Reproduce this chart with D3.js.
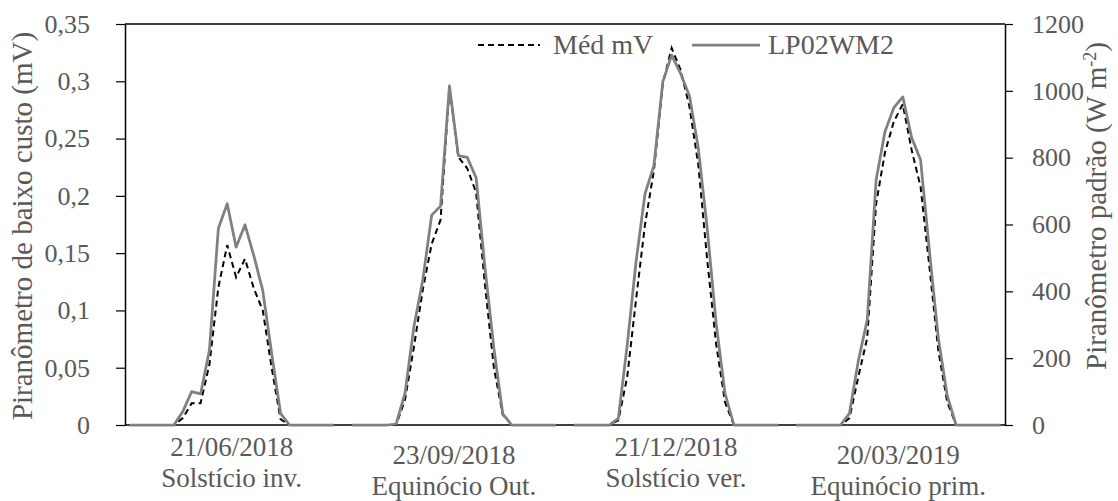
<!DOCTYPE html>
<html>
<head>
<meta charset="utf-8">
<script src="https://cdn.jsdelivr.net/npm/d3@7"></script>
<style>
    body { margin: 0; background: #fff; }
    svg text { font-family: "Liberation Serif", "Times New Roman", Times, Tinos, "Noto Serif", "DejaVu Serif", FreeSerif, serif; fill: #595959; }
</style>
</head>
<body>
<svg id="chart" width="1118" height="501"></svg>
<script>
// Dias medidos (uma curva de 24 horas por dia)
const dayDates = ["21/06/2018", "23/09/2018", "21/12/2018", "20/03/2019"];
const dayNames = ["Solstício inv.", "Equinócio Out.", "Solstício ver.", "Equinócio prim."];
const hours = [0, 1, 2, 3, 4, 5, 6, 7, 8, 9, 10, 11, 12, 13, 14, 15, 16, 17, 18, 19, 20, 21, 22, 23];

// Piranômetro de baixo custo (mV)
const mvDay1 = [0, 0, 0, 0, 0, 0, 0.006, 0.019, 0.019, 0.053, 0.12, 0.157, 0.129, 0.145, 0.119, 0.1, 0.05, 0.005, 0, 0, 0, 0, 0, 0];
const mvDay2 = [0, 0, 0, 0, 0, 0, 0.022, 0.068, 0.118, 0.158, 0.179, 0.295, 0.234, 0.224, 0.203, 0.122, 0.05, 0.009, 0, 0, 0, 0, 0, 0];
const mvDay3 = [0, 0, 0, 0, 0, 0.004, 0.042, 0.11, 0.175, 0.222, 0.298, 0.329, 0.31, 0.278, 0.227, 0.144, 0.071, 0.02, 0, 0, 0, 0, 0, 0];
const mvDay4 = [0, 0, 0, 0, 0, 0, 0.006, 0.042, 0.076, 0.193, 0.238, 0.265, 0.28, 0.24, 0.208, 0.138, 0.065, 0.02, 0, 0, 0, 0, 0, 0];

// Piranômetro padrão LP02 (W m-2)
const wDay1 = [0, 0, 0, 0, 0, 0, 40, 100, 93, 224, 588, 662, 532, 599, 506, 402, 214, 35, 0, 0, 0, 0, 0, 0];
const wDay2 = [0, 0, 0, 0, 0, 3, 95, 294, 434, 628, 655, 1015, 806, 801, 740, 470, 230, 33, 0, 0, 0, 0, 0, 0];
const wDay3 = [0, 0, 0, 0, 0, 20, 240, 490, 692, 776, 1027, 1107, 1052, 985, 828, 588, 305, 95, 0, 0, 0, 0, 0, 0];
const wDay4 = [0, 0, 0, 0, 0, 0, 35, 192, 314, 733, 878, 950, 982, 860, 794, 520, 260, 88, 0, 0, 0, 0, 0, 0];

const mvTicks = [0, 0.05, 0.1, 0.15, 0.2, 0.25, 0.3, 0.35];
const wTicks = [0, 200, 400, 600, 800, 1000, 1200];
const seriesNames = ["Méd mV", "LP02WM2"];

const mvDays = [mvDay1, mvDay2, mvDay3, mvDay4];
const wDays = [wDay1, wDay2, wDay3, wDay4];

// categorias: 24 horas por dia, com uma célula vazia entre os dias
let cats = [];
dayDates.forEach((d, di) => {
    hours.forEach((h, hi) => cats.push({ day: di, hour: hi, mv: mvDays[di][hi], w: wDays[di][hi] }));
    if (di < dayDates.length - 1) cats.push(null);
});

const margin = { left: 125, right: 1005, top: 24, bottom: 425 };
const svg = d3.select("#chart");
const serif = '"Liberation Serif", "Times New Roman", Times, Tinos, "Noto Serif", "DejaVu Serif", FreeSerif, serif';

const x = d3.scaleBand().domain(d3.range(cats.length)).range([margin.left, margin.right]);
const cx = i => x(i) + x.bandwidth() / 2;
const yL = d3.scaleLinear().domain([0, 0.35]).range([margin.bottom, margin.top]);
const yR = d3.scaleLinear().domain([0, 1200]).range([margin.bottom, margin.top]);

// eixos
const fmt = d => d3.format(".2~f")(d).replace(".", ",");
const axL = svg.append("g")
    .attr("transform", `translate(${margin.left},0)`)
    .call(d3.axisLeft(yL).tickValues(mvTicks).tickFormat(fmt).tickSize(9).tickSizeOuter(0).tickPadding(26));
const axR = svg.append("g")
    .attr("transform", `translate(${margin.right},0)`)
    .call(d3.axisRight(yR).tickValues(wTicks).tickFormat(d3.format("d")).tickSize(8).tickSizeOuter(0).tickPadding(19));

[axL, axR].forEach(a => {
    a.attr("font-family", serif);
    a.select(".domain").attr("stroke", "#000").attr("stroke-width", 1.5);
    a.selectAll(".tick line").attr("stroke", "#000").attr("stroke-width", 1.2);
    a.selectAll(".tick text").style("font-size", "26px").attr("fill", "#595959")
        .style("font-family", serif);
});

svg.append("line")
    .attr("x1", margin.left).attr("x2", margin.right)
    .attr("y1", margin.top).attr("y2", margin.top)
    .attr("stroke", "#000").attr("stroke-width", 1.5);
svg.append("line")
    .attr("x1", margin.left).attr("x2", margin.right)
    .attr("y1", margin.bottom).attr("y2", margin.bottom)
    .attr("stroke", "#000").attr("stroke-width", 1.5);

// séries, um trecho por dia
const idx = cats.map((c, i) => c ? i : null);
dayDates.forEach((d, di) => {
    const pts = idx.filter(i => i !== null && cats[i].day === di);
    svg.append("path")
        .datum(pts)
        .attr("fill", "none")
        .attr("stroke", "#000")
        .attr("stroke-width", 2)
        .attr("stroke-dasharray", "6,4")
        .attr("d", d3.line().x(i => cx(i)).y(i => yL(cats[i].mv)));
});
dayDates.forEach((d, di) => {
    const pts = idx.filter(i => i !== null && cats[i].day === di);
    svg.append("path")
        .datum(pts)
        .attr("fill", "none")
        .attr("stroke", "#808080")
        .attr("stroke-width", 2.75)
        .attr("stroke-linejoin", "round")
        .attr("d", d3.line().x(i => cx(i)).y(i => yR(cats[i].w)));
});

// rótulos dos dias
dayDates.forEach((d, di) => {
    const pts = idx.filter(i => i !== null && cats[i].day === di);
    const mid = (cx(pts[0]) + cx(pts[pts.length - 1])) / 2;
    const off = di % 2 === 1 ? 8 : 0;
    svg.append("text")
        .attr("x", mid).attr("y", 456 + off)
        .attr("text-anchor", "middle")
        .style("font-size", "27px")
        .text(d);
    svg.append("text")
        .attr("x", mid).attr("y", 487 + off)
        .attr("text-anchor", "middle")
        .style("font-size", "27px")
        .text(dayNames[di]);
});

// títulos dos eixos
svg.append("text")
    .attr("transform", "translate(32,226) rotate(-90)")
    .attr("text-anchor", "middle")
    .style("font-size", "29px")
    .text("Piranômetro de baixo custo (mV)");

const tr = svg.append("text")
    .attr("transform", "translate(1106,206) rotate(-90)")
    .attr("text-anchor", "middle")
    .style("font-size", "29px");
tr.append("tspan").text("Piranômetro padrão (W m");
tr.append("tspan").attr("baseline-shift", "super").style("font-size", "18px").text("-2");
tr.append("tspan").text(")");

// legenda
const leg = svg.append("g");
leg.append("line").attr("x1", 478).attr("x2", 540).attr("y1", 45).attr("y2", 45)
    .attr("stroke", "#000").attr("stroke-width", 2).attr("stroke-dasharray", "6,4");
leg.append("text").attr("x", 553).attr("y", 54).style("font-size", "28px").text(seriesNames[0]);
leg.append("line").attr("x1", 692).attr("x2", 760).attr("y1", 45).attr("y2", 45)
    .attr("stroke", "#808080").attr("stroke-width", 2.75);
leg.append("text").attr("x", 768).attr("y", 54).style("font-size", "28px").text(seriesNames[1]);
</script>
</body>
</html>
